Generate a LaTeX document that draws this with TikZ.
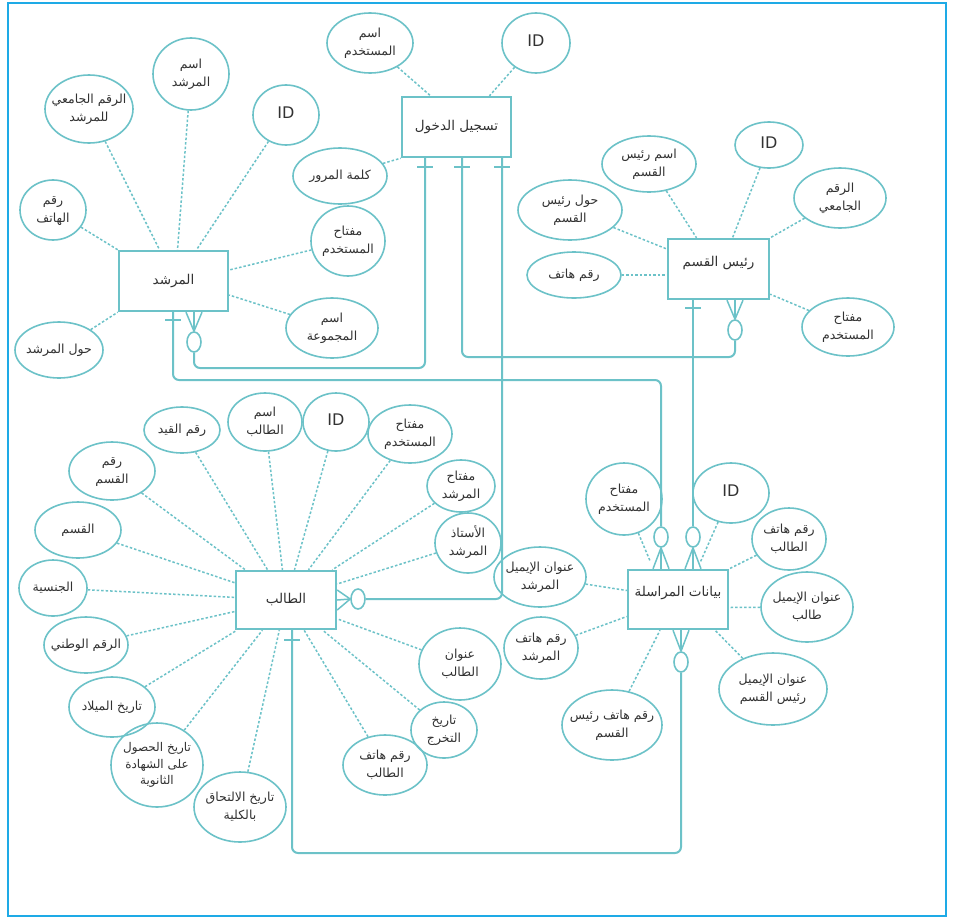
\documentclass[tikz,border=0pt]{standalone}
\usepackage{fontspec}
\setmainfont{DejaVu Sans}
\newfontfamily\arabicfont[Script=Arabic]{DejaVu Sans}
\TeXXeTstate=1
\usetikzlibrary{shapes.geometric}
\definecolor{frameblue}{RGB}{30,170,230}
\definecolor{erteal}{RGB}{108,194,200}
\definecolor{txt}{RGB}{50,50,50}
\newcommand\AR[1]{\beginR #1\endR}
\newcommand\TXs[2]{\makebox[0pt]{\raisebox{#1}[0pt][0pt]{\begin{tabular}{@{}c@{}}#2\end{tabular}}}}
\newcommand\TX[1]{\TXs{-0.25em}{#1}}
\newcommand\IDt{\TXs{-0.25em}{\fontsize{16}{18}\selectfont ID}}
\begin{document}
\begin{tikzpicture}[x=1pt,y=-1pt,
  ent/.style={draw=erteal,line width=2.4pt,rectangle,inner sep=0pt,font=\arabicfont\fontsize{13.5}{17}\selectfont,text=txt},
  attr/.style={draw=erteal,line width=1.6pt,ellipse,inner sep=0pt,font=\arabicfont\fontsize{12.5}{17.5}\selectfont,text=txt},
  sz/.style 2 args={minimum width=#1pt,minimum height=#2pt},
  dot/.style={draw=erteal,line width=1.5pt,dash pattern=on 2.5pt off 2pt},
  rel/.style={draw=erteal,line width=2pt,rounded corners=6pt},
  crow/.style={draw=erteal,line width=1.5pt},
  bar/.style={draw=erteal,line width=1.7pt},
  opt/.style={draw=erteal,line width=1.6pt,ellipse,minimum width=14pt,minimum height=20pt,inner sep=0pt},
]
\useasboundingbox (0,0) rectangle (957,921);
\fill[white] (0,0) rectangle (957,921);
\draw[frameblue,line width=1.6pt] (8,3) rectangle (946,916);

% entities
\node[ent,sz={109}{60}] (adv) at (173.5,281) {\TX{\AR{المرشد}}};
\node[ent,sz={109}{60}] (login) at (456.5,127) {\TX{\AR{تسجيل الدخول}}};
\node[ent,sz={101}{60}] (head) at (718.5,269) {\TXs{0.2em}{\AR{رئيس القسم}}};
\node[ent,sz={100}{58}] (stu) at (286,600) {\TX{\AR{الطالب}}};
\node[ent,sz={100}{59}] (con) at (678,599.5) {\TXs{0.2em}{\AR{بيانات المراسلة}}};

% advisor attributes
\node[attr,sz={88}{68}] (a1) at (89,109) {\TX{\AR{الرقم الجامعي}\\\AR{للمرشد}}};
\node[attr,sz={76}{72}] (a2) at (191,74) {\TX{\AR{اسم}\\\AR{المرشد}}};
\node[attr,sz={66}{60}] (a3) at (286,115) {\IDt};
\node[attr,sz={66}{60}] (a4) at (53,210) {\TX{\AR{رقم}\\\AR{الهاتف}}};
\node[attr,sz={74}{70}] (a5) at (348,241) {\TX{\AR{مفتاح}\\\AR{المستخدم}}};
\node[attr,sz={92}{60}] (a6) at (332,328) {\TX{\AR{اسم}\\\AR{المجموعة}}};
\node[attr,sz={88}{56}] (a7) at (59,350) {\TX{\AR{حول المرشد}}};

% login attributes
\node[attr,sz={86}{60}] (l1) at (370,43) {\TX{\AR{اسم}\\\AR{المستخدم}}};
\node[attr,sz={68}{60}] (l2) at (536,43) {\IDt};
\node[attr,sz={94}{56}] (l3) at (340,176) {\TX{\AR{كلمة المرور}}};

% head attributes
\node[attr,sz={94}{56}] (h1) at (649,164) {\TX{\AR{اسم رئيس}\\\AR{القسم}}};
\node[attr,sz={68}{46}] (h2) at (769,145) {\IDt};
\node[attr,sz={104}{60}] (h3) at (570,210) {\TX{\AR{حول رئيس}\\\AR{القسم}}};
\node[attr,sz={92}{60}] (h4) at (840,198) {\TX{\AR{الرقم}\\\AR{الجامعي}}};
\node[attr,sz={94}{46}] (h5) at (574,275) {\TX{\AR{رقم هاتف}}};
\node[attr,sz={92}{58}] (h6) at (848,327) {\TX{\AR{مفتاح}\\\AR{المستخدم}}};

% student attributes
\node[attr,sz={76}{46}] (s1) at (182,430) {\TX{\AR{رقم القيد}}};
\node[attr,sz={74}{58}] (s2) at (265,422) {\TX{\AR{اسم}\\\AR{الطالب}}};
\node[attr,sz={66}{58}] (s3) at (336,422) {\IDt};
\node[attr,sz={84}{58}] (s4) at (410,434) {\TX{\AR{مفتاح}\\\AR{المستخدم}}};
\node[attr,sz={68}{52}] (s5) at (461,486) {\TX{\AR{مفتاح}\\\AR{المرشد}}};
\node[attr,sz={66}{60}] (s6) at (468,543) {\TX{\AR{الأستاذ}\\\AR{المرشد}}};
\node[attr,sz={86}{58}] (s7) at (112,471) {\TX{\AR{رقم}\\\AR{القسم}}};
\node[attr,sz={86}{56}] (s8) at (78,530) {\TX{\AR{القسم}}};
\node[attr,sz={68}{56}] (s9) at (53,588) {\TX{\AR{الجنسية}}};
\node[attr,sz={84}{56}] (s10) at (86,645) {\TX{\AR{الرقم الوطني}}};
\node[attr,sz={86}{60}] (s11) at (112,707) {\TX{\AR{تاريخ الميلاد}}};
\node[attr,sz={92}{84},font=\arabicfont\fontsize{12}{16.5}\selectfont] (s12) at (157,765) {\TX{\AR{تاريخ الحصول}\\\AR{على الشهادة}\\\AR{الثانوية}}};
\node[attr,sz={92}{70}] (s13) at (240,807) {\TX{\AR{تاريخ الالتحاق}\\\AR{بالكلية}}};
\node[attr,sz={84}{60}] (s14) at (385,765) {\TX{\AR{رقم هاتف}\\\AR{الطالب}}};
\node[attr,sz={66}{56}] (s15) at (444,730) {\TX{\AR{تاريخ}\\\AR{التخرج}}};
\node[attr,sz={82}{72}] (s16) at (460,664) {\TX{\AR{عنوان}\\\AR{الطالب}}};

% contact attributes
\node[attr,sz={76}{72}] (k1) at (624,499) {\TX{\AR{مفتاح}\\\AR{المستخدم}}};
\node[attr,sz={76}{60}] (k2) at (731,493) {\IDt};
\node[attr,sz={74}{62}] (k3) at (789,539) {\TX{\AR{رقم هاتف}\\\AR{الطالب}}};
\node[attr,sz={92}{70}] (k4) at (807,607) {\TX{\AR{عنوان الإيميل}\\\AR{طالب}}};
\node[attr,sz={108}{72}] (k5) at (773,689) {\TX{\AR{عنوان الإيميل}\\\AR{رئيس القسم}}};
\node[attr,sz={100}{70}] (k6) at (612,725) {\TX{\AR{رقم هاتف رئيس}\\\AR{القسم}}};
\node[attr,sz={92}{60}] (k7) at (540,577) {\TX{\AR{عنوان الإيميل}\\\AR{المرشد}}};
\node[attr,sz={74}{62}] (k8) at (541,648) {\TX{\AR{رقم هاتف}\\\AR{المرشد}}};

% optional circles
\node[opt] (c1) at (194,342) {};
\node[opt] (c2) at (735,330) {};
\node[opt] (c3) at (358,599) {};
\node[opt] (c5) at (661,537) {};
\node[opt] (c6) at (693,537) {};
\node[opt] (c7) at (681,662) {};

% attribute connectors
\draw[dot] (a1) -- ([xshift=-14pt]adv.north);
\draw[dot] (a2) -- ([xshift=4pt]adv.north);
\draw[dot] (a3) -- ([xshift=23pt]adv.north);
\draw[dot] (a4) -- (adv.north west);
\draw[dot] (a5) -- ([yshift=11pt]adv.east);
\draw[dot] (a6) -- ([yshift=-14pt]adv.east);
\draw[dot] (a7) -- (adv.south west);

\draw[dot] (l1) -- ([xshift=-26pt]login.north);
\draw[dot] (l2) -- ([xshift=33pt]login.north);
\draw[dot] (l3) -- (login.south west);

\draw[dot] (h1) -- ([xshift=-22pt]head.north);
\draw[dot] (h2) -- ([xshift=14pt]head.north);
\draw[dot] (h3) -- ([yshift=20pt]head.west);
\draw[dot] (h4) -- (head.north east);
\draw[dot] (h5) -- ([yshift=-6pt]head.west);
\draw[dot] (h6) -- ([yshift=6pt]head.south east);

\foreach \i in {1,...,16} \draw[dot] (s\i) -- (stu);

\draw[dot] (k1) -- ([xshift=-28pt,yshift=8pt]con.north);
\draw[dot] (k2) -- ([xshift=22pt,yshift=6pt]con.north);
\draw[dot] (k3) -- (con.north east);
\draw[dot] (k4) -- ([yshift=-8pt]con.east);
\draw[dot] (k5) -- ([xshift=37pt]con.south);
\draw[dot] (k6) -- ([xshift=-18pt]con.south);
\draw[dot] (k7) -- ([yshift=9pt]con.west);
\draw[dot] (k8) -- ([yshift=-17pt]con.west);

% crow's feet
\foreach \s in {12.5,20.5,28.5} \draw[crow] (c1.north) -- ([xshift=\s pt]adv.south);
\foreach \s in {8.5,16.5,24.5} \draw[crow] (c2.north) -- ([xshift=\s pt]head.south);
\foreach \s in {10,0,-10} \draw[crow] (c3.west) -- ([yshift=\s pt]stu.east);
\foreach \s in {-25,-17,-9} \draw[crow] (c5.south) -- ([xshift=\s pt]con.north);
\foreach \s in {7,15,23} \draw[crow] (c6.south) -- ([xshift=\s pt]con.north);
\foreach \s in {-5,3,11} \draw[crow] (c7.north) -- ([xshift=\s pt]con.south);

% relationships
\draw[rel] ([xshift=-31.5pt]login.south) -- (425,368) -- (194,368) -- (c1.south);
\draw[rel] ([xshift=5.5pt]login.south) -- (462,357) -- (735,357) -- (c2.south);
\draw[rel] ([xshift=45.5pt]login.south) -- (502,599) -- (c3.east);
\draw[rel] ([xshift=-0.5pt]adv.south) -- (173,380) -- (661,380) -- (c5.north);
\draw[rel] ([xshift=-25.5pt]head.south) -- (c6.north);
\draw[rel] ([xshift=6pt]stu.south) -- (292,853) -- (681,853) -- (c7.south);

% one-bars
\draw[bar] (417,167) -- (433,167);
\draw[bar] (454,167) -- (470,167);
\draw[bar] (494,167) -- (510,167);
\draw[bar] (165,320) -- (181,320);
\draw[bar] (685,308) -- (701,308);
\draw[bar] (284,640) -- (300,640);
\end{tikzpicture}
\end{document}
